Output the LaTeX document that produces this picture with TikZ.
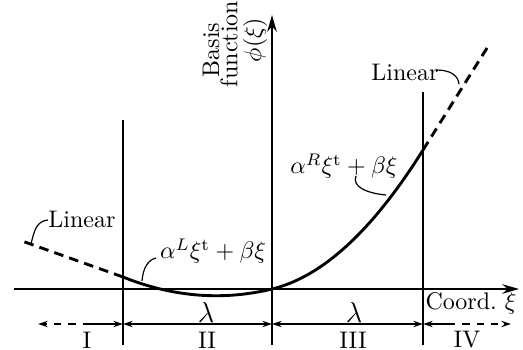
\documentclass[tikz,border=0pt]{standalone}
\usetikzlibrary{arrows.meta}
\begin{document}
\begin{tikzpicture}[x=0.4167pt,y=-0.4167pt,
  axisline/.style={line width=0.8pt,-{Stealth[length=7pt,width=4pt]}},
  guide/.style={line width=0.5pt},
  curveline/.style={line width=1.2pt},
  linpart/.style={line width=1.2pt,dash pattern=on 4pt off 2.6pt},
  dimline/.style={line width=0.5pt},
  dimtip/.style={-{Stealth[length=4pt,width=2.6pt]}},
  dimboth/.style={{Stealth[length=4pt,width=2.6pt]}-{Stealth[length=4pt,width=2.6pt]}},
  leader/.style={line width=0.5pt},
  lbl/.style={inner sep=0pt}]
\useasboundingbox (0,0) rectangle (523,350);
% guide lines
\draw[guide] (123,120) -- (123,345);
\draw[guide] (423,92) -- (423,345);
% axes
\draw[axisline] (14,289) -- (519,289);
\draw[axisline] (272,345) -- (272,15);
% curve
\draw[curveline] plot[domain=-1.49:0,samples=50] ({272+100*\x},{289-(21.58*\x*\x+24.1*\x)});
\draw[curveline] plot[domain=0:1.51,samples=50] ({272+100*\x},{289-(45.0*\x*\x+24.1*\x)});
\draw[linpart] (123,277) -- (22,241);
\draw[linpart] (423,150) -- (487,48);
% labels
\node[lbl,rotate=90] (basis) at (211,50) {Basis};
\node[lbl,rotate=90] (func) at (229,44) {function};
\node[lbl,rotate=90] (phi) at (255,40) {$\phi(\xi)$};
\node[lbl] (linL) at (82,219) {Linear};
\node[lbl] (linR) at (405,72) {Linear};
\node[lbl] (aL) at (213,251) {$\alpha^L\xi^{\mathrm{t}}+\beta\xi$};
\node[lbl] (aR) at (344,166) {$\alpha^R\xi^{\mathrm{t}}+\beta\xi$};
\node[lbl] (coord) at (471,303) {Coord.~$\xi$};
% leaders
\draw[leader] (31,244) .. controls (34,232) and (36,221) .. (48,220);
\draw[leader] (436,70) .. controls (450,70) and (458,75) .. (459,84);
\draw[leader] (142,281) .. controls (143,268) and (148,260) .. (156,258);
\draw[leader] (356,176) .. controls (352,186) and (365,193) .. (386,195);
% dimensions
\coordinate (dL) at (38,324);
\coordinate (dLm) at (90,324);
\coordinate (d1) at (123,324);
\coordinate (d2) at (272,324);
\coordinate (d3) at (423,324);
\coordinate (dRm) at (448,324);
\coordinate (dR) at (511,324);
\draw[dimline,dashed,dimtip] (dLm) -- (dL);
\draw[dimline,dimtip] (dLm) -- (d1);
\draw[dimline,dimboth] (d1) -- (d2);
\draw[dimline,dimboth] (d2) -- (d3);
\draw[dimline,dimtip] (dRm) -- (d3);
\draw[dimline,dashed,dimtip] (dRm) -- (dR);
\node[lbl] (lam1) at (206,312) {\large$\lambda$};
\node[lbl] (lam2) at (354,312) {\large$\lambda$};
\node[lbl] (r1) at (87,340) {I};
\node[lbl] (r2) at (207,340) {II};
\node[lbl] (r3) at (353,340) {III};
\node[lbl] (r4) at (467,340) {IV};
\end{tikzpicture}
\end{document}
